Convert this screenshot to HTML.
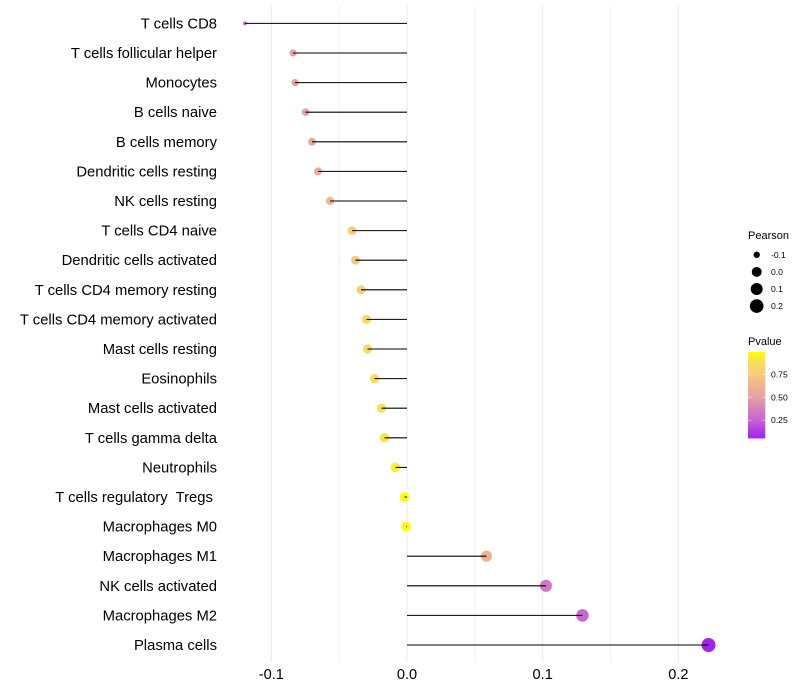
<!DOCTYPE html>
<html>
<head>
<meta charset="utf-8">
<style>
html,body{margin:0;padding:0;background:#fff;}
svg{display:block;}
text{font-family:"Liberation Sans",sans-serif;fill:#000;white-space:pre;}
</style>
</head>
<body>
<svg id="chart" xmlns="http://www.w3.org/2000/svg" width="800" height="700" viewBox="0 0 800 700"></svg>
<script>
const categories = ["T cells CD8","T cells follicular helper","Monocytes","B cells naive","B cells memory","Dendritic cells resting","NK cells resting","T cells CD4 naive","Dendritic cells activated","T cells CD4 memory resting","T cells CD4 memory activated","Mast cells resting","Eosinophils","Mast cells activated","T cells gamma delta","Neutrophils","T cells regulatory  Tregs ","Macrophages M0","Macrophages M1","NK cells activated","Macrophages M2","Plasma cells"];
const pearson = [-0.1194,-0.084,-0.0825,-0.0748,-0.07,-0.0656,-0.0567,-0.0405,-0.038,-0.0339,-0.0298,-0.0291,-0.024,-0.0188,-0.0166,-0.0085,-0.0018,-0.0007,0.0586,0.1024,0.1293,0.2222];
const pvalue = [0.3,0.5,0.5,0.52,0.55,0.58,0.65,0.77,0.75,0.8,0.85,0.83,0.88,0.9,0.92,0.95,0.99,0.99,0.62,0.33,0.27,0.06];
const xMajorTicks = [-0.1,0.0,0.1,0.2];
const xMinorTicks = [-0.05,0.05,0.15];
const sizeLegendValues = [-0.1,0.0,0.1,0.2];
const colorLegendValues = [0.25,0.5,0.75];

const NS = "http://www.w3.org/2000/svg";
const svg = document.getElementById("chart");
function mk(tag, attrs, parent){
  const el = document.createElementNS(NS, tag);
  for(const k in attrs){ el.setAttribute(k, attrs[k]); }
  (parent||svg).appendChild(el);
  return el;
}
function xScale(v){ return 407 + v*1357; }
function yScale(i){ return 23.4 + i*(645-23.4)/21; }
const minV = Math.min(...pearson), maxV = Math.max(...pearson);
function rScale(v){ return 2 + Math.sqrt((v-minV)/(maxV-minV))*5; }
const colorStops = [[0.05,[160,32,240]],[0.25,[200,98,210]],[0.5,[230,158,165]],[0.75,[245,202,125]],[0.9,[250,224,85]],[1,[255,255,0]]];
function colorScale(p){
  for(let i=0;i<colorStops.length-1;i++){
    const a=colorStops[i], b=colorStops[i+1];
    if(p<=b[0]){
      const t=Math.max(0,(p-a[0])/(b[0]-a[0]));
      return "rgb("+a[1].map((c,j)=>Math.round(c+(b[1][j]-c)*t)).join(",")+")";
    }
  }
  return "rgb(255,255,0)";
}
function pScale(p){ return 397.3 - (p-0.5)*91.6; }

// gridlines
xMinorTicks.forEach(v=>{
  const g = mk("line",{x1:xScale(v),x2:xScale(v),y1:5,y2:662,stroke:"#f1f1f1","stroke-width":1});
  
  
});
xMajorTicks.forEach(v=>{
  const g = mk("line",{x1:xScale(v),x2:xScale(v),y1:5,y2:662,stroke:"#ebebeb","stroke-width":1});
  
  
});

// points, then segments above
categories.forEach((c,i)=>{
  const p = mk("circle",{cx:xScale(pearson[i]),cy:yScale(i),r:rScale(pearson[i]),fill:colorScale(pvalue[i])});
  
  
});
categories.forEach((c,i)=>{
  const s = mk("line",{x1:xScale(0),x2:xScale(pearson[i]),y1:yScale(i),y2:yScale(i),stroke:"#000","stroke-width":1.07});
  
  
  const t = mk("text",{x:217,y:yScale(i)+5,"text-anchor":"end","font-size":"14.8"});
  t.textContent = c;
  
  
});

// x tick labels
xMajorTicks.forEach(v=>{
  const t = mk("text",{x:xScale(v),y:679,"text-anchor":"middle","font-size":"14.6"});
  t.textContent = v.toFixed(1);
  
  
});

// size legend
const sizeTitle = mk("text",{x:748,y:239,"font-size":"11"});
sizeTitle.textContent = "Pearson";


sizeLegendValues.forEach((v,i)=>{
  const y = 254.8 + i*17.1;
  const c = mk("circle",{cx:756.7,cy:y,r:rScale(v),fill:"#000"});
  
  
  const t = mk("text",{x:771,y:y+3,"font-size":"8.6"});
  t.textContent = v.toFixed(1);
  
  
});

// colour legend
const colorTitle = mk("text",{x:748,y:345,"font-size":"11"});
colorTitle.textContent = "Pvalue";


const defs = mk("defs",{});
const grad = mk("linearGradient",{id:"pv",x1:0,y1:1,x2:0,y2:0},defs);
colorStops.forEach(s=>{
  mk("stop",{offset:(s[0]-0.05)/0.95,"stop-color":"rgb("+s[1].join(",")+")"},grad);
});
const bar = mk("rect",{x:748,y:352,width:17.3,height:86.4,fill:"url(#pv)"});


colorLegendValues.forEach(v=>{
  const y = pScale(v);
  const a = mk("line",{x1:748,x2:751.5,y1:y,y2:y,stroke:"#fff","stroke-opacity":0.6,"stroke-width":0.8});
  
  
  const b = mk("line",{x1:761.8,x2:765.3,y1:y,y2:y,stroke:"#fff","stroke-opacity":0.6,"stroke-width":0.8});
  
  
  const t = mk("text",{x:771,y:y+3,"font-size":"8.6"});
  t.textContent = v.toFixed(2);
  
  
});
</script>
</body>
</html>
